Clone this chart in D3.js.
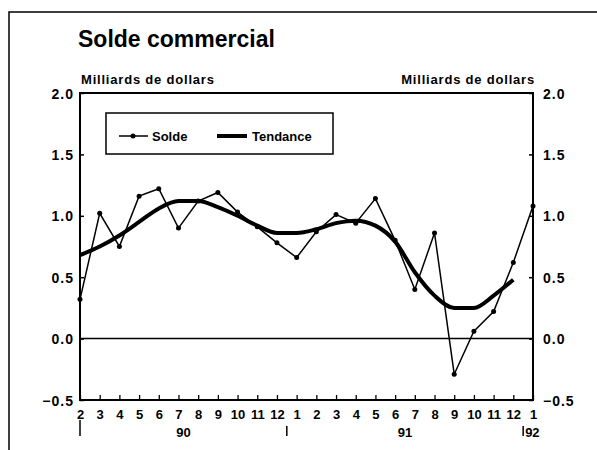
<!DOCTYPE html>
<html>
<head>
<meta charset="utf-8">
<script src="https://cdn.jsdelivr.net/npm/d3@7"></script>
<style>
  html, body { margin: 0; padding: 0; background: #fff; }
  svg { display: block; }
  text { font-family: "Liberation Sans", Arial, sans-serif; font-weight: bold; fill: #000; }
</style>
</head>
<body>
<svg id="chart" width="597" height="450"></svg>
<script>
// ---- Data ----
const monthLabels = ["2","3","4","5","6","7","8","9","10","11","12","1","2","3","4","5","6","7","8","9","10","11","12","1"];
const solde = [0.32, 1.02, 0.75, 1.16, 1.22, 0.90, 1.12, 1.19, 1.03, 0.91, 0.78, 0.66, 0.87, 1.01, 0.94, 1.14, 0.80, 0.40, 0.86, -0.29, 0.06, 0.22, 0.62, 1.08];
const tendance = [0.68, 0.75, 0.84, 0.95, 1.06, 1.12, 1.12, 1.07, 1.00, 0.92, 0.86, 0.86, 0.89, 0.94, 0.96, 0.92, 0.79, 0.54, 0.35, 0.25, 0.25, 0.35, 0.48];
const yTicks = [-0.5, 0.0, 0.5, 1.0, 1.5, 2.0];
const years = [{label: "90", from: 0, to: 10.5}, {label: "91", from: 10.5, to: 22.5}];
const yearSeparators = [0, 10.5, 22.5];
const title = "Solde commercial";
const axisTitle = "Milliards de dollars";

// ---- Layout ----
const svg = d3.select("#chart");
const L = 80, R = 533, T = 93, B = 400;
const x = d3.scaleLinear().domain([0, monthLabels.length - 1]).range([L, R]);
const y = d3.scaleLinear().domain([-0.5, 2.0]).range([B, T]);

// outer frame
svg.append("path")
  .attr("d", `M9,450 L9,12 L597,12`)
  .attr("fill", "none").attr("stroke", "#000").attr("stroke-width", 1.5);

// titles
svg.append("text").attr("x", 78).attr("y", 47).attr("font-size", 23).text(title);
svg.append("text").attr("x", 81).attr("y", 84).attr("font-size", 13).attr("letter-spacing", 0.8).text(axisTitle);
svg.append("text").attr("x", 535).attr("y", 84).attr("font-size", 13).attr("letter-spacing", 0.8).attr("text-anchor", "end").text(axisTitle);

// y axes
const leftAxis = d3.axisLeft(y).tickValues(yTicks).tickFormat(d3.format(".1f")).tickSizeInner(-4).tickSizeOuter(0).tickPadding(6);
const gl = svg.append("g").attr("transform", `translate(${L},0)`).call(leftAxis);
const rightAxis = d3.axisRight(y).tickValues(yTicks).tickFormat(d3.format(".1f")).tickSizeInner(-4).tickSizeOuter(0).tickPadding(10);
const gr = svg.append("g").attr("transform", `translate(${R},0)`).call(rightAxis);
[gl, gr].forEach(g => {
  g.select(".domain").remove();
  g.selectAll("line").attr("stroke", "#000").attr("stroke-width", 1.5);
  g.selectAll("text").attr("font-size", 14).attr("letter-spacing", 1).attr("font-family", "Liberation Sans, Arial, sans-serif").attr("font-weight", "bold").attr("dy", "0.36em");
});

// bottom axis
const bottomAxis = d3.axisBottom(x).tickValues(d3.range(monthLabels.length)).tickFormat(i => monthLabels[i]).tickSizeInner(-5).tickSizeOuter(0).tickPadding(10);
const gb = svg.append("g").attr("transform", `translate(0,${B})`).call(bottomAxis);
gb.select(".domain").remove();
gb.selectAll("line").attr("stroke", "#000").attr("stroke-width", 1.3);
gb.selectAll("text").attr("font-size", 13).attr("font-family", "Liberation Sans, Arial, sans-serif").attr("font-weight", "bold");

// plot frame
svg.append("rect").attr("x", L).attr("y", T).attr("width", R - L).attr("height", B - T)
  .attr("fill", "none").attr("stroke", "#000").attr("stroke-width", 2);

// zero line
svg.append("line").attr("x1", L).attr("x2", R).attr("y1", y(0)).attr("y2", y(0))
  .attr("stroke", "#000").attr("stroke-width", 1.5);

// year labels and separators
svg.selectAll(".yl").data(years).enter().append("text")
  .attr("x", d => (x(d.from) + x(d.to)) / 2).attr("y", 437).attr("text-anchor", "middle").attr("font-size", 13).text(d => d.label);
svg.selectAll(".ys").data(yearSeparators).enter().append("line")
  .attr("x1", d => x(d)).attr("x2", d => x(d)).attr("y1", (d, i) => i === 0 ? 420 : 426).attr("y2", 436)
  .attr("stroke", "#000").attr("stroke-width", 1.5);
svg.append("text").attr("x", x(22.5) + 2).attr("y", 437).attr("font-size", 13).text("92");

// series
svg.append("path").datum(tendance)
  .attr("d", d3.line().x((d, i) => x(i)).y(d => y(d)).curve(d3.curveMonotoneX))
  .attr("fill", "none").attr("stroke", "#000").attr("stroke-width", 4).attr("stroke-linejoin", "round");
svg.append("path").datum(solde)
  .attr("d", d3.line().x((d, i) => x(i)).y(d => y(d)))
  .attr("fill", "none").attr("stroke", "#000").attr("stroke-width", 1.5);
svg.selectAll(".pt").data(solde).enter().append("circle")
  .attr("cx", (d, i) => x(i)).attr("cy", d => y(d)).attr("r", 2.5).attr("fill", "#000");

// legend
svg.append("rect").attr("x", 106).attr("y", 113).attr("width", 227).attr("height", 41)
  .attr("fill", "#fff").attr("stroke", "#000").attr("stroke-width", 1.5);
svg.append("line").attr("x1", 119).attr("x2", 148).attr("y1", 136).attr("y2", 136).attr("stroke", "#000").attr("stroke-width", 1.5);
svg.append("circle").attr("cx", 133).attr("cy", 136).attr("r", 2.5).attr("fill", "#000");
svg.append("text").attr("x", 152).attr("y", 141).attr("font-size", 13).text("Solde");
svg.append("line").attr("x1", 217).attr("x2", 247).attr("y1", 136).attr("y2", 136).attr("stroke", "#000").attr("stroke-width", 4);
svg.append("text").attr("x", 252).attr("y", 141).attr("font-size", 13).text("Tendance");
</script>
</body>
</html>
